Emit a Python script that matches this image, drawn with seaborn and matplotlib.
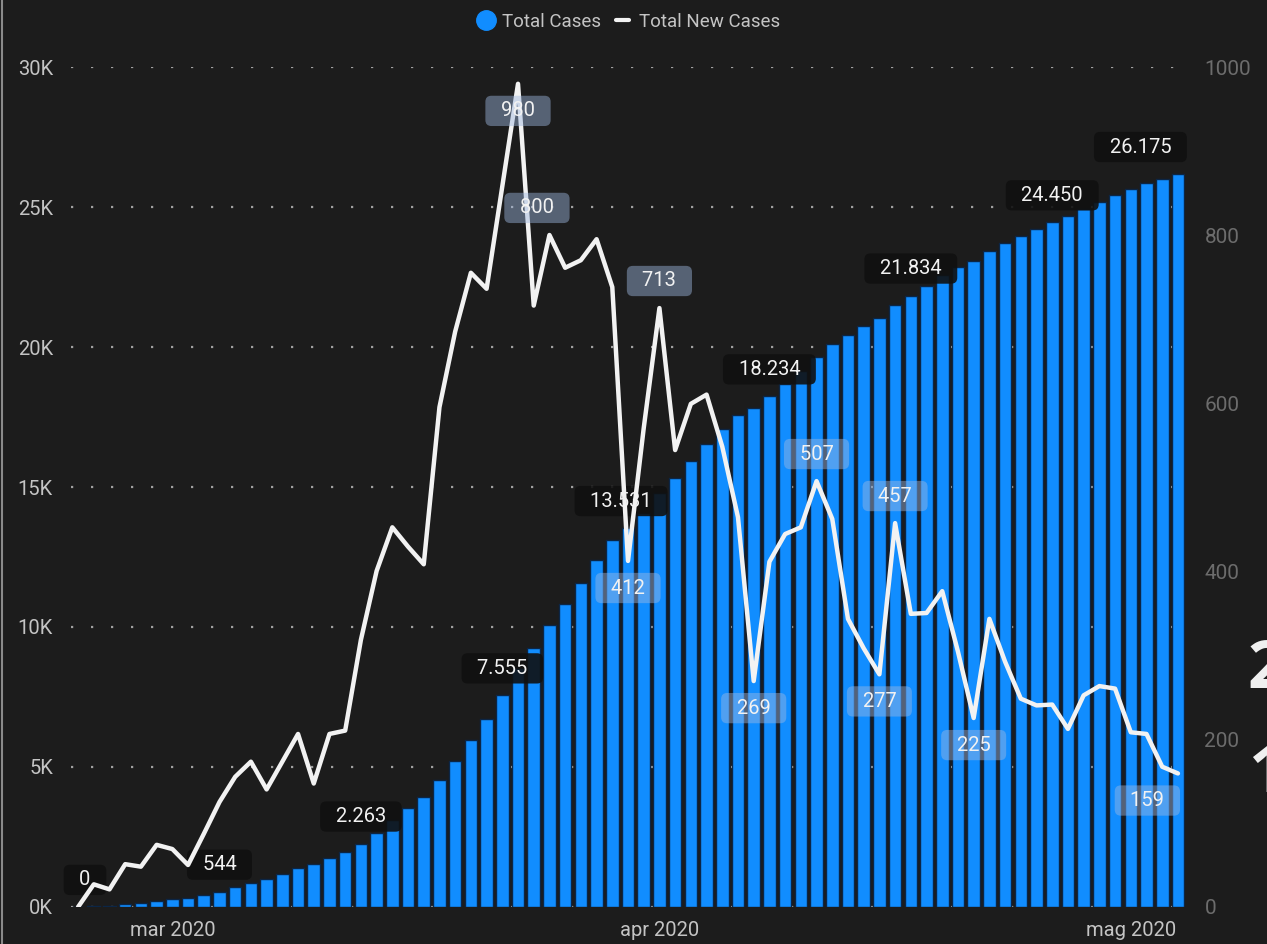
import pandas as pd
import seaborn as sns
import matplotlib.pyplot as plt
from matplotlib.lines import Line2D

# daily data, 24 feb -> 4 mag 2020
days = pd.date_range("2020-02-24", periods=71)

total_cases = [0, 27, 48, 98, 145, 218, 285, 335, 420, 544,
               698, 870, 1010, 1180, 1386, 1533, 1739, 1947, 2263, 2644,
               3093, 3522, 3931, 4525, 5214, 5968, 6705, 7555, 8535, 9254,
               10054, 10816, 11588, 12383, 13119, 13531, 14074, 14787, 15333, 15930,
               16540, 17089, 17556, 17825, 18234, 18678, 19128, 19635, 20098, 20442,
               20752, 21029, 21486, 21834, 22184, 22560, 22864, 23089, 23432, 23724,
               23972, 24212, 24450, 24662, 24914, 25177, 25437, 25645, 25851, 26016,
               26175]

new_cases = [0, 27, 21, 51, 48, 74, 69, 50, 87, 125,
             155, 173, 140, 173, 206, 147, 206, 210, 318, 400,
             452, 429, 408, 595, 685, 755, 736, 858, 980, 716,
             800, 761, 770, 795, 738, 412, 570, 713, 544, 599,
             610, 548, 464, 269, 411, 444, 452, 507, 462, 343,
             308, 277, 457, 349, 350, 376, 304, 225, 343, 292,
             248, 240, 241, 212, 252, 263, 260, 208, 206, 167,
             159]

# which points carry a data label
bar_label_idx = [0, 9, 18, 27, 35, 44, 53, 62, 70]
line_label_idx = [28, 30, 37, 35, 43, 47, 52, 51, 57, 70]

month_ticks = [6, 37, 67]
month_names = ["mar 2020", "apr 2020", "mag 2020"]
left_ticks = [0, 5000, 10000, 15000, 20000, 25000, 30000]
left_names = ["0K", "5K", "10K", "15K", "20K", "25K", "30K"]
right_ticks = [0, 200, 400, 600, 800, 1000]

BG = "#1c1c1c"
BLUE = "#118DFF"

sns.set_theme(style="dark", rc={"axes.facecolor": BG, "figure.facecolor": BG})
plt.rcParams["font.family"] = ["Roboto", "DejaVu Sans"]


def it_num(v):
    return f"{v:,}".replace(",", ".")


fig = plt.figure(figsize=(12.67, 9.44), dpi=100)
ax = fig.add_axes([71 / 1267, 37 / 944, 1114 / 1267, 840 / 944])

pos = list(range(len(days)))
sns.barplot(x=pos, y=total_cases, ax=ax, color=BLUE, saturation=1,
            width=0.8, edgecolor="#0b2647", linewidth=1.0, zorder=2)
ax.set_xlim(-0.45, 70.45)
ax.set_ylim(0, 30000)
ax.set_yticks(left_ticks)
ax.set_yticklabels(left_names)
ax.set_xticks(month_ticks)
ax.set_xticklabels(month_names)
ax.tick_params(axis="y", colors="#c4c4c4", labelsize=14.5, pad=13, length=0)
ax.tick_params(axis="x", colors="#c4c4c4", labelsize=14.5, pad=10, length=0)
ax.grid(axis="y", color="#a0a0a0", linestyle=(0, (1, 8)), linewidth=1.6)
ax.grid(axis="x", visible=False)
ax.set_axisbelow(True)
for s in ax.spines.values():
    s.set_visible(False)

ax2 = ax.twinx()
sns.lineplot(x=pos, y=new_cases, ax=ax2, color="#f2f2f2", linewidth=3.2, zorder=5)
ax2.set_ylim(0, 1000)
ax2.set_yticks(right_ticks)
ax2.tick_params(axis="y", colors="#6c6c6c", labelsize=15, pad=14, length=0)
ax2.grid(False)
for s in ax2.spines.values():
    s.set_visible(False)

# bar labels (dark boxes)
bar_dx = {0: 5, 35: -5, 70: -27}
for i in bar_label_idx:
    ax2.annotate(f"  {it_num(total_cases[i])}  ",
                 xy=(i, total_cases[i] / 30.0), xytext=(bar_dx.get(i, 0), 19.5),
                 textcoords="offset points", ha="center", va="center",
                 fontsize=14.5, color="#f2f2f2", zorder=3,
                 bbox=dict(boxstyle="round,pad=0.28,rounding_size=0.3",
                           fc="#101010", ec="none", alpha=0.9))

# line labels (translucent boxes)
line_dx = {30: -9, 70: -22}
for i in line_label_idx:
    up = new_cases[i] >= new_cases[i - 1]
    dy = 19.5 if up and i != 28 else -19.5
    ax2.annotate(f"  {it_num(new_cases[i])}  ",
                 xy=(i, new_cases[i]), xytext=(line_dx.get(i, 0), dy),
                 textcoords="offset points", ha="center", va="center",
                 fontsize=14.5, color="#f2f2f2", zorder=8,
                 bbox=dict(boxstyle="round,pad=0.28,rounding_size=0.3",
                           fc=(0.62, 0.72, 0.88, 0.45), ec="none"))

handles = [Line2D([], [], marker="o", color=BLUE, linestyle="none", markersize=14),
           Line2D([], [], color="#f2f2f2", linewidth=3)]
fig.legend(handles, ["Total Cases", "Total New Cases"], loc="center",
           bbox_to_anchor=(0.497, 0.977), ncol=2, frameon=False,
           fontsize=13.5, labelcolor="#c4c4c4", handlelength=0.7,
           handletextpad=0.5, columnspacing=0.8)

# cropped text at the right edge of the screenshot
fig.text(1248 / 1267, 1 - 670 / 944, "2", fontsize=48, fontweight="bold",
         color="#f0f0f0", ha="left", va="center", family=["Open Sans", "DejaVu Sans"])
fig.text(1248 / 1267, 1 - 774 / 944, "1", fontsize=48, fontweight="bold",
         color="#f0f0f0", ha="left", va="center", family=["Open Sans", "DejaVu Sans"])
fig.add_artist(Line2D([2 / 1267, 2 / 1267], [0, 1], color="#8a8a8a", linewidth=1.5))

fig.savefig("out.png", dpi=100, facecolor=BG)
